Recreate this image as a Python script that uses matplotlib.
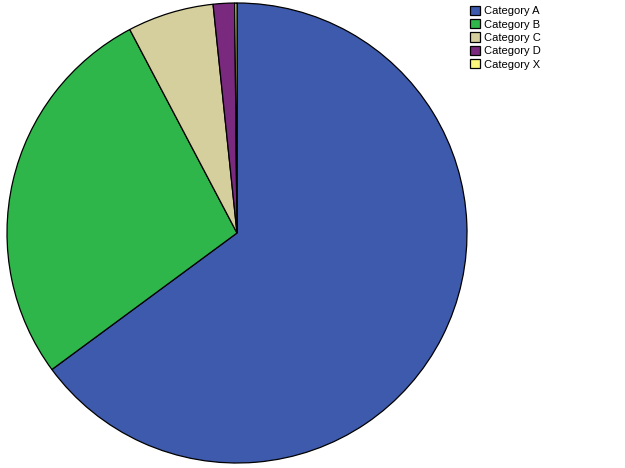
import matplotlib
matplotlib.use("Agg")
import matplotlib.pyplot as plt

categories = ["Category A", "Category B", "Category C", "Category D", "Category X"]
values = [64.9, 27.4, 6.06, 1.5, 0.16]
colors = ["#3e5aad", "#2fb64a", "#d4cf9d", "#7a2a7e", "#fbf77c"]

plt.rcParams['font.family'] = ['Liberation Sans', 'DejaVu Sans']

W, H = 625, 468
fig = plt.figure(figsize=(W / 100, H / 100), dpi=100)
# pie centre (237, 233) px, radius 230 px
cx, cy, r = 237, 233, 230
ax = fig.add_axes([(cx - r) / W, (H - cy - r) / H, 2 * r / W, 2 * r / H])
wedges, _ = ax.pie(values, colors=colors, startangle=90, counterclock=False,
                   radius=1.0, wedgeprops=dict(edgecolor="black", linewidth=0.9))
ax.set_xlim(-1, 1)
ax.set_ylim(-1, 1)
ax.set_aspect("equal")
ax.axis("off")

leg = fig.legend(wedges, categories, loc="upper left",
                 bbox_to_anchor=(462 / W, 1 + 2 / H), frameon=False,
                 fontsize=8, handlelength=0.9, handleheight=0.9,
                 handletextpad=0.35, labelspacing=0.26, borderpad=0.2)

fig.savefig("out.png", dpi=100, facecolor="white")
